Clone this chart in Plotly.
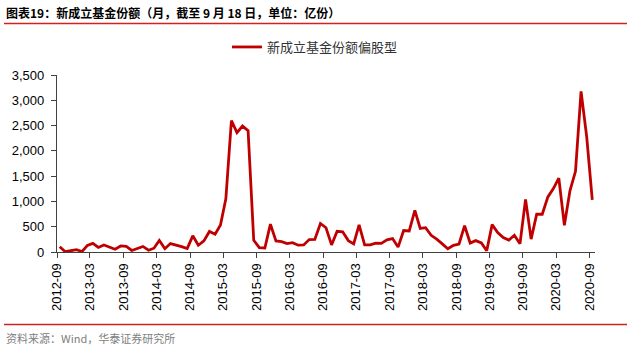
import pandas as pd
import plotly.graph_objects as go

# Monthly new equity-leaning fund shares (100 million units), 2012-09 .. 2020-09
months = [p.strftime("%Y-%m-01") for p in pd.period_range("2012-09", "2020-09", freq="M")]
shares = [
    105, 5, 25, 45, 10, 130, 170, 90, 140, 95, 55, 120,
    110, 30, 75, 110, 35, 75, 228, 65, 167, 140, 107, 67,
    320, 133, 220, 407, 353, 533, 1053, 2600, 2360, 2490, 2400, 233,
    87, 80, 550, 218, 205, 165, 185, 135, 140, 245, 250, 565,
    480, 140, 410, 400, 225, 160, 535, 140, 140, 175, 170, 240,
    265, 97, 425, 415, 825, 465, 480, 330, 255, 160, 65, 132,
    158, 520, 178, 225, 178, 25, 541, 385, 285, 235, 330, 165,
    1040, 255, 746, 746, 1089, 1254, 1460, 528, 1210, 1595, 3175, 2277,
    1030,
]
series_name = "新成立基金份额偏股型"
title_text = "图表19：新成立基金份额（月，截至 9 月 18 日，单位：亿份）"
source_text = "资料来源：Wind，华泰证券研究所"
y_ticks = [0, 500, 1000, 1500, 2000, 2500, 3000, 3500]

W, H = 636, 349
L, R, T, B = 57, 41, 75, 97
pw, ph = W - L - R, H - T - B

def px_x(x):
    return (x - L) / pw

def px_y(y):
    return 1 - (y - T) / ph

AXIS = "#404040"
RED = "#D42020"
num_font = "Liberation Sans, Arial, sans-serif"
cjk_font = "Noto Sans CJK SC, sans-serif"

fig = go.Figure()
fig.add_trace(go.Scatter(
    x=months, y=shares, name=series_name, mode="lines",
    xperiod="M1", xperiodalignment="middle",
    line=dict(color="#C00000", width=2.8),
))

fig.update_layout(
    width=W, height=H,
    margin=dict(l=L, r=R, t=T, b=B),
    paper_bgcolor="white", plot_bgcolor="white",
    showlegend=True,
    legend=dict(
        orientation="h", x=px_x(227), xanchor="left",
        y=px_y(47), yanchor="middle",
        font=dict(family=cjk_font, size=13, color="#333333"),
        bgcolor="rgba(0,0,0,0)",
    ),
    xaxis=dict(
        type="date",
        range=["2012-09-01", "2020-10-01"],
        tick0="2012-09-01", dtick="M6", tickformat="%Y-%m",
        tickangle=-90,
        showgrid=False, zeroline=False,
        showline=True, linecolor=AXIS, linewidth=1.3,
        ticks="outside", ticklen=5, tickcolor=AXIS, tickwidth=1.3,
        tickfont=dict(family=num_font, size=13, color="#000000"),
    ),
    yaxis=dict(
        range=[0, 3500],
        tickvals=y_ticks, tickformat=",",
        showgrid=False, zeroline=False,
        showline=True, linecolor=AXIS, linewidth=1.3,
        ticks="outside", ticklen=5, tickcolor=AXIS, tickwidth=1.3,
        tickfont=dict(family=num_font, size=13, color="#000000"),
        ticklabelstandoff=4,
    ),
)

# Header text and rule
fig.add_annotation(
    text="<b>" + title_text + "</b>", xref="paper", yref="paper",
    x=px_x(4), y=px_y(13), xanchor="left", yanchor="middle",
    showarrow=False, font=dict(family=cjk_font, size=12, color="#000000"),
)
fig.add_shape(type="line", xref="paper", yref="paper",
              x0=px_x(4), x1=px_x(627), y0=px_y(23.5), y1=px_y(23.5),
              line=dict(color=RED, width=1.3))

# Footer rule and source note
fig.add_shape(type="line", xref="paper", yref="paper",
              x0=px_x(4), x1=px_x(627), y0=px_y(324.5), y1=px_y(324.5),
              line=dict(color=RED, width=1.3))
fig.add_annotation(
    text=source_text, xref="paper", yref="paper",
    x=px_x(4), y=px_y(338), xanchor="left", yanchor="middle",
    showarrow=False, font=dict(family=cjk_font, size=11, color="#808080"),
)

fig.write_html("out.html")
